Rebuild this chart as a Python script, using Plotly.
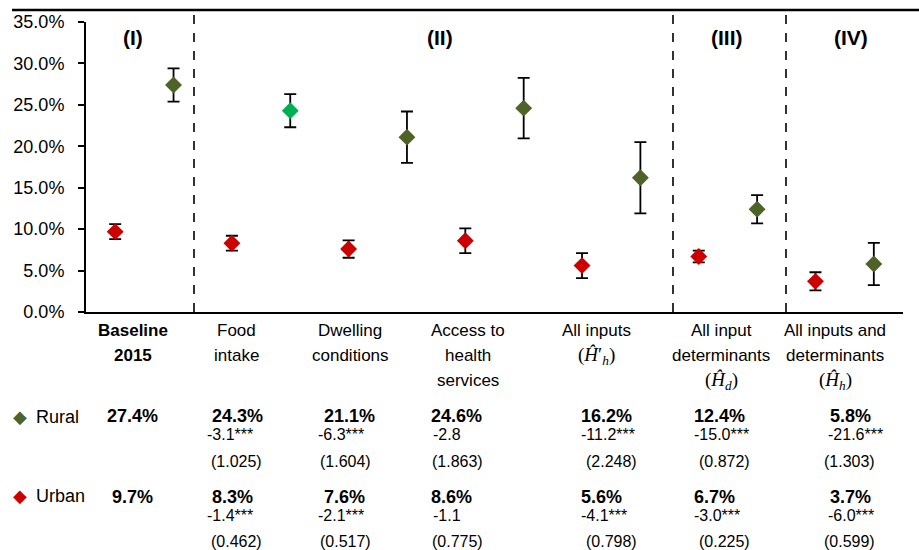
import plotly.graph_objects as go

# ---------------- data ----------------
categories = ["Baseline<br>2015", "Food<br>intake", "Dwelling<br>conditions",
              "Access to<br>health<br>services", "All inputs",
              "All input<br>determinants", "All inputs and<br>determinants"]
math_labels = ["", "", "", "", "(<i>Ĥ</i>′<sub><i>h</i></sub>)",
               "(<i>Ĥ</i><sub><i>d</i></sub>)", "(<i>Ĥ</i><sub><i>h</i></sub>)"]
rural = [27.4, 24.3, 21.1, 24.6, 16.2, 12.4, 5.8]
urban = [9.7, 8.3, 7.6, 8.6, 5.6, 6.7, 3.7]
rural_err = [2.0, 2.0, 3.1, 3.65, 4.3, 1.7, 2.55]
urban_err = [0.9, 0.9, 1.05, 1.5, 1.5, 0.7, 1.1]
rural_diff = ["", "-3.1***", "-6.3***", "-2.8", "-11.2***", "-15.0***", "-21.6***"]
rural_se = ["", "(1.025)", "(1.604)", "(1.863)", "(2.248)", "(0.872)", "(1.303)"]
urban_diff = ["", "-1.4***", "-2.1***", "-1.1", "-4.1***", "-3.0***", "-6.0***"]
urban_se = ["", "(0.462)", "(0.517)", "(0.775)", "(0.798)", "(0.225)", "(0.599)"]
sections = ["(I)", "(II)", "(III)", "(IV)"]

# ---------------- styling ----------------
OLIVE = "#4F6228"
BRIGHT = "#00B050"
RED = "#CC0000"
FONT = "Liberation Sans Narrow, Arial Narrow, Liberation Sans, Arial, sans-serif"
MATH = "Liberation Serif, DejaVu Serif, serif"

W, H = 919, 550
L, R, T, B = 86, 16, 22, 238
PW = W - L - R
PH = H - T - B
NC = len(categories)


def px2x(px):
    """pixel -> data x"""
    return (px - L) / PW * NC


def px2p(px):
    """pixel -> paper x"""
    return (px - L) / PW


def py2y(py):
    """pixel -> paper y"""
    return (H - B - py) / PH


rural_colors = [OLIVE] * NC
rural_colors[1] = BRIGHT

xs_urban = [i + 0.25 for i in range(NC)]
xs_rural = [i + 0.75 for i in range(NC)]

fig = go.Figure()
fig.add_trace(go.Scatter(
    x=xs_urban, y=urban, mode="markers", name="Urban",
    marker=dict(symbol="diamond", size=13, color=RED),
    error_y=dict(type="data", array=urban_err, color="black", thickness=1.8, width=6),
))
fig.add_trace(go.Scatter(
    x=xs_rural, y=rural, mode="markers", name="Rural",
    marker=dict(symbol="diamond", size=13, color=rural_colors),
    error_y=dict(type="data", array=rural_err, color="black", thickness=1.8, width=6),
))

shapes = []
# top rule
shapes.append(dict(type="line", xref="paper", yref="paper",
                   x0=px2p(12), x1=px2p(W), y0=py2y(10), y1=py2y(10),
                   line=dict(color="black", width=2.5)))
# section separators
for sx in [194, 673, 786]:
    shapes.append(dict(type="line", xref="x", yref="paper",
                       x0=px2x(sx), x1=px2x(sx), y0=0, y1=py2y(12),
                       line=dict(color="black", width=1.6, dash="dash")))

ann = []
# section headers
for txt, px in zip(sections, [133, 440, 727, 851]):
    ann.append(dict(x=px2p(px), y=py2y(37), xref="paper", yref="paper", text="<b>%s</b>" % txt,
                    showarrow=False, font=dict(family=FONT, size=21, color="black"),
                    xanchor="center", yanchor="middle"))

# category labels (one annotation per line to reproduce the line spacing)
cat_px = [133, 236, 350, 468, 596, 721, 835]
for i, (c, px) in enumerate(zip(categories, cat_px)):
    lines = c.split("<br>")
    for k, line in enumerate(lines):
        txt = "<b>%s</b>" % line if i == 0 else line
        ann.append(dict(x=px2p(px), y=py2y(330 + 25 * k), xref="paper", yref="paper", text=txt,
                        showarrow=False, font=dict(family=FONT, size=17, color="black"),
                        xanchor="center", yanchor="middle"))
    if math_labels[i]:
        my = 331 + 25 * len(lines)
        ann.append(dict(x=px2p(px), y=py2y(my), xref="paper", yref="paper", text=math_labels[i],
                        showarrow=False, font=dict(family=MATH, size=19, color="black"),
                        xanchor="center", yanchor="middle"))

# table rows: legend markers and names
for name, col, py in [("Rural", OLIVE, 416), ("Urban", RED, 495)]:
    ann.append(dict(x=px2p(20), y=py2y(py), xref="paper", yref="paper", text="◆",
                    showarrow=False, font=dict(family="DejaVu Sans", size=18, color=col),
                    xanchor="center", yanchor="middle"))
    ann.append(dict(x=px2p(34), y=py2y(py + 1), xref="paper", yref="paper", text=name,
                    showarrow=False, font=dict(family=FONT, size=18, color="black"),
                    xanchor="left", yanchor="middle"))

bold_left = [105, 210, 322, 429, 579, 692, 828]
diff_left = [0, 205, 316, 431, 579, 692, 826]
se_left = [0, 209, 318, 430, 584, 697, 822]
rows = [(rural, rural_diff, rural_se, 416, 434, 461, 0),
        (urban, urban_diff, urban_se, 497, 515, 541, 5)]
for vals, diffs, ses, yb, yd, ys, base_dx in rows:
    for i in range(NC):
        ann.append(dict(x=px2p(bold_left[i] + (base_dx if i == 0 else 0)),
                        y=py2y(yb), xref="paper", yref="paper",
                        text="<b>%.1f%%</b>" % vals[i], showarrow=False,
                        font=dict(family=FONT, size=18, color="black"),
                        xanchor="left", yanchor="middle"))
        if diffs[i]:
            ann.append(dict(x=px2p(diff_left[i]), y=py2y(yd), xref="paper", yref="paper",
                            text=diffs[i], showarrow=False,
                            font=dict(family=FONT, size=16, color="black"),
                            xanchor="left", yanchor="middle"))
            ann.append(dict(x=px2p(se_left[i]), y=py2y(ys), xref="paper", yref="paper",
                            text=ses[i], showarrow=False,
                            font=dict(family=FONT, size=16, color="black"),
                            xanchor="left", yanchor="middle"))

fig.update_layout(
    width=W, height=H,
    margin=dict(l=L, r=R, t=T, b=B, pad=0),
    paper_bgcolor="white", plot_bgcolor="white",
    showlegend=False,
    shapes=shapes, annotations=ann,
    font=dict(family=FONT, color="black"),
)
fig.update_xaxes(range=[0, NC], showgrid=False, zeroline=False, showticklabels=False,
                 ticks="", showline=True, linecolor="black", linewidth=2)
fig.update_yaxes(range=[0, 35], dtick=5, tickformat=".1f", ticksuffix="%",
                 showgrid=False, zeroline=False, showline=True, linecolor="black",
                 linewidth=2, ticks="outside", ticklen=6, tickwidth=1.5, tickcolor="black",
                 ticklabelstandoff=10,
                 tickfont=dict(family=FONT, size=18, color="black"))

fig.write_html("out.html", config={"displayModeBar": False},
               post_script="document.body.style.margin='0';")
